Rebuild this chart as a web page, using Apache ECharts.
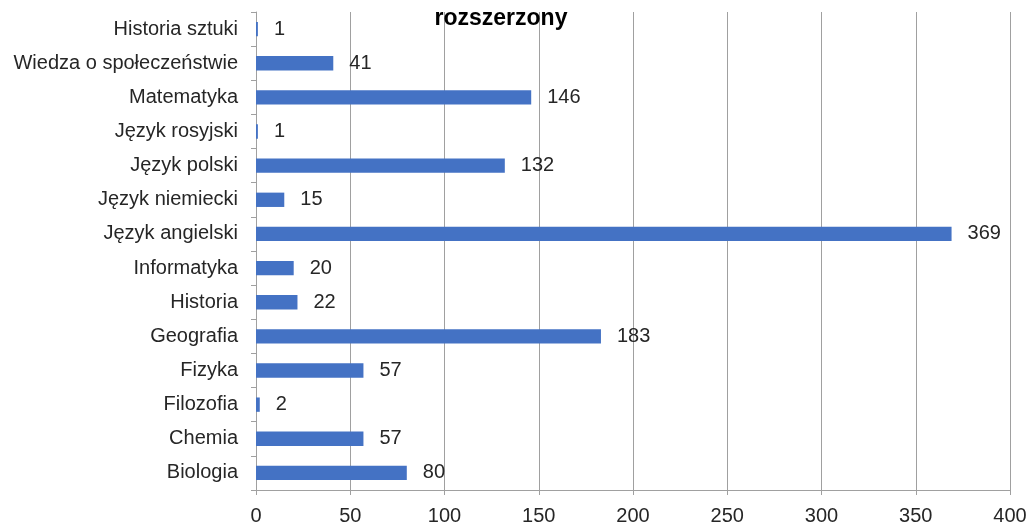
<!DOCTYPE html>
<html lang="pl">
<head>
    <meta charset="UTF-8">
    <title>rozszerzony</title>
    <style>
        html, body { margin: 0; padding: 0; background: #fff; }
        #main { width: 1030px; height: 530px; }
    </style>
</head>
<body>
<div id="main"></div>
<script src="https://cdn.jsdelivr.net/npm/echarts@6/dist/echarts.min.js"></script>
<script>
    // kategorie od dołu do góry
    const subjects = ['Biologia', 'Chemia', 'Filozofia', 'Fizyka', 'Geografia', 'Historia', 'Informatyka',
        'Język angielski', 'Język niemiecki', 'Język polski', 'Język rosyjski', 'Matematyka',
        'Wiedza o społeczeństwie', 'Historia sztuki'];
    const counts = [80, 57, 2, 57, 183, 22, 20, 369, 15, 132, 1, 146, 41, 1];
    const xTicks = [0, 50, 100, 150, 200, 250, 300, 350, 400];

    const font = '"Liberation Sans", sans-serif';
    const gridColor = '#a0a0a0';

    let myChart = echarts.init(document.getElementById('main'));
    myChart.setOption({
        animation: false,
        title: {
            text: 'rozszerzony',
            left: 496,
            textAlign: 'center',
            top: 2,
            textStyle: {fontFamily: font, fontSize: 23, fontWeight: 'bold', color: '#000'}
        },
        grid: {left: 256, right: 20, top: 12, bottom: 40},
        xAxis: {
            type: 'value',
            min: xTicks[0],
            max: xTicks[xTicks.length - 1],
            interval: 50,
            axisLine: {show: true, lineStyle: {color: gridColor}},
            axisTick: {show: true, length: 5, lineStyle: {color: gridColor}},
            splitLine: {show: true, lineStyle: {color: gridColor, width: 1}},
            axisLabel: {fontFamily: font, fontSize: 20, color: '#262626', margin: 16}
        },
        yAxis: {
            type: 'category',
            data: subjects,
            axisLine: {show: true, lineStyle: {color: gridColor}},
            axisTick: {show: true, length: 5, lineStyle: {color: gridColor}},
            axisLabel: {fontFamily: font, fontSize: 20, color: '#262626', margin: 18}
        },
        series: [{
            type: 'bar',
            data: counts,
            barCategoryGap: '58%',
            itemStyle: {color: '#4472c4'},
            label: {
                show: true,
                position: 'right',
                distance: 16,
                fontFamily: font,
                fontSize: 20,
                color: '#262626'
            }
        }]
    });
</script>
</body>
</html>
